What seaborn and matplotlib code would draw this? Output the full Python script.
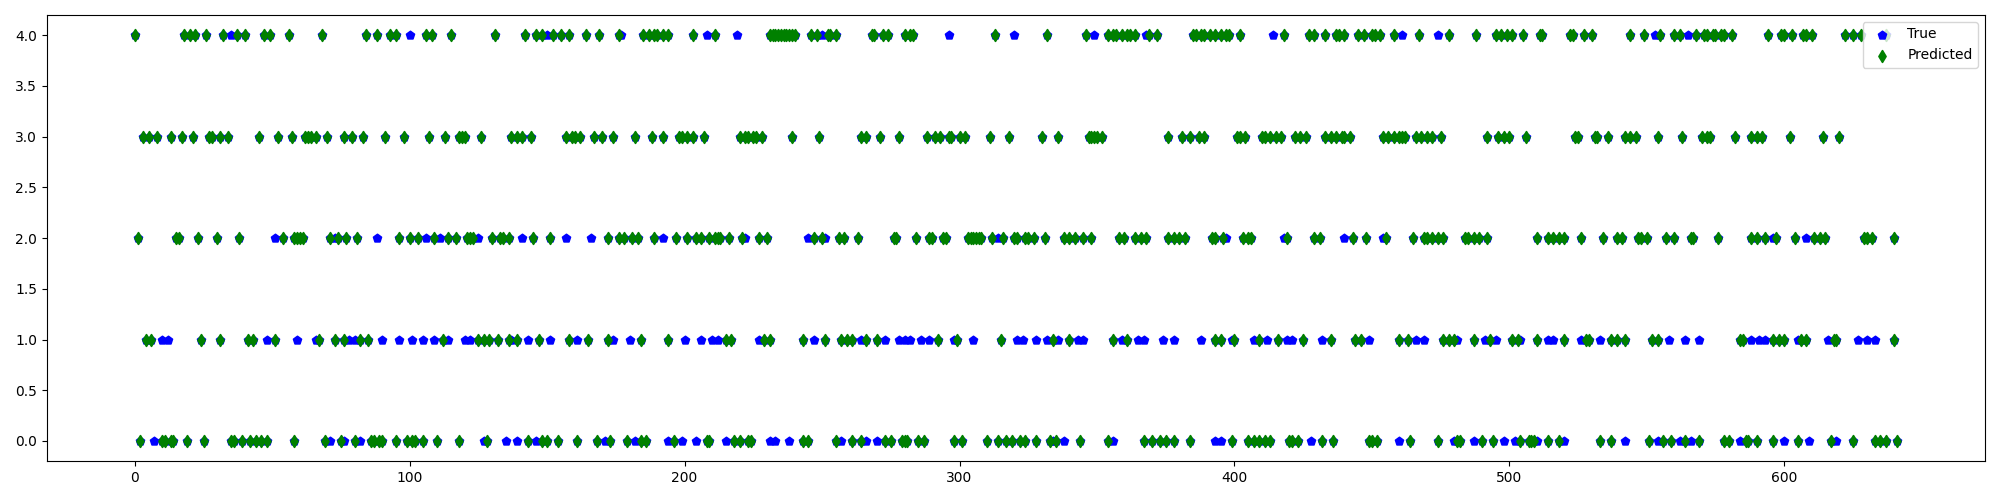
import matplotlib
matplotlib.use("Agg")
import matplotlib.pyplot as plt
import numpy as np
import pandas as pd
import seaborn as sns

# sample index of every predicted label, grouped by predicted class
pred_class0 = [2, 10, 11, 13, 14, 19, 25, 35, 36, 39, 42, 44, 46, 48,
               58, 69, 75, 80, 86, 87, 89, 90, 95, 99, 101, 102, 105,
               110, 118, 128, 143, 148, 150, 154, 161,
               168, 173, 179, 184, 186, 196, 208, 209, 218, 220, 223,
               224, 243, 245, 255, 261, 264, 273, 275, 279,
               280, 281, 285, 287, 298, 301, 310, 314, 317, 319, 322, 324, 328, 333, 335,
               344, 354, 367, 370, 373, 375, 378, 384,
               399, 405, 407, 409, 411, 413, 420, 421, 423, 432, 436, 449,
               450, 452, 464, 474, 481, 482, 490, 494, 504, 507,
               508, 509, 514, 518, 533, 537, 551, 556, 559, 564,
               569, 578, 580, 586, 587, 590, 596, 605, 617,
               625, 633, 635, 637, 641]
pred_class1 = [4, 6, 24, 31, 41, 43, 51,
               67, 73, 76, 82, 85,
               112, 125, 127, 129, 132, 136, 139, 147, 158, 165,
               172, 184, 194, 215, 217,
               229, 231, 243, 251, 257, 259, 261, 266, 270,
               292, 299, 315, 334,
               340, 356, 361, 393,
               395, 400, 409, 416, 425, 435, 444, 446,
               460, 463, 476, 478, 480, 487, 493, 501, 503,
               510, 520, 528, 529, 537, 539, 542, 552, 554,
               584, 585, 596, 598, 600, 606, 608, 618, 619,
               640]
pred_class2 = [1, 15, 16, 23, 30, 38,
               54, 58, 59, 60, 61, 71, 74, 77, 81, 96, 100, 103, 109,
               114, 117, 121, 122, 123, 130, 133, 134, 136, 145, 151,
               172, 176, 178, 181, 183, 189, 197, 201, 204, 206, 209, 211, 212, 213, 216, 221,
               227, 230, 247, 250, 256, 258, 263, 276, 277,
               284, 289, 290, 294, 295, 303, 304, 305, 306, 307, 308, 312, 316, 320, 321,
               324, 325, 327, 331,
               338, 340, 342, 345, 348, 358, 360, 364, 366, 368, 376, 378, 380, 382, 392,
               393, 396, 403, 405, 406, 419, 429, 431, 443, 448,
               455, 465, 469, 470, 472, 474, 476, 484, 485, 487, 489, 492,
               510, 514, 516, 518, 520, 526, 534, 539, 541, 547, 548, 550, 557, 560,
               566, 567, 576, 588, 590, 593, 597, 604, 611, 613, 615,
               629, 630, 632, 640]
pred_class3 = [3, 5, 8, 13, 17, 21, 27, 28, 31, 34, 45,
               52, 57, 62, 63, 64, 66, 70, 76, 79, 83, 91, 98, 107,
               113, 118, 119, 120, 126, 137, 139, 141, 144, 157, 159, 160, 162,
               167, 170, 174, 182, 188, 192, 198, 199, 201, 203, 207, 220,
               222, 223, 225, 226, 228, 239, 249, 264, 266, 271, 278,
               288, 291, 293, 296, 297, 300, 302, 311, 318, 330, 336,
               347, 348, 349, 350, 352, 376, 381, 384, 387, 389,
               401, 402, 404, 410, 411, 413, 415, 417, 422, 424, 426, 433, 435, 437, 439, 440, 442,
               454, 456, 458, 460, 461, 462, 466, 468, 470, 472, 475, 492, 496, 498, 500, 506,
               524, 525, 531, 532, 536, 542, 544, 546, 554, 563,
               570, 572, 573, 582, 588, 590, 592, 602, 614, 620]
pred_class4 = [0, 18, 20, 22, 26, 32, 37, 40, 47, 49,
               56, 68, 84, 88, 93, 95, 106, 108,
               115, 131, 142, 146, 148, 152, 155, 158, 164,
               169, 176, 185, 187, 189, 190, 192, 194, 203, 211,
               231, 232, 233, 234, 235, 236, 237, 238, 239, 240, 246, 248, 252, 253, 255,
               268, 269, 272, 274,
               280, 282, 283, 313, 332,
               346, 354, 356, 357, 359, 361, 362, 364, 369, 372, 385, 386, 388, 389, 391,
               393, 395, 397, 398, 402, 418, 427, 429, 433, 437, 438, 440, 445, 447,
               450, 451, 453, 458, 467, 478, 488, 495, 497, 499, 501, 505,
               511, 512, 522, 523, 527, 530, 544, 549, 555, 560, 562,
               568, 571, 572, 574, 575, 577, 578, 581, 594, 599, 600, 603, 607, 608, 610,
               622, 625, 628, 637]

# samples where the true label differs from the prediction, grouped by true class
miss_class0 = [7, 71, 76, 82, 127, 135, 139, 146, 171, 182, 194, 199, 204, 215,
               231, 233, 238, 257, 266, 270, 334, 338, 356, 393, 395, 428, 460,
               480, 487, 498, 502, 510, 520, 542, 554, 562, 566, 584, 600, 609, 619]
miss_class1 = [10, 12, 48, 59, 66, 78, 80, 90, 96, 101, 105, 109, 114, 120, 122,
               137, 143, 151, 161, 174, 180, 200, 206, 210, 212, 227, 247, 264,
               273, 278, 280, 282, 286, 289, 298, 305, 321, 323, 328, 332, 336,
               343, 345, 359, 365, 367, 374, 378, 388, 399, 407, 412, 419, 421,
               432, 449, 466, 469, 481, 491, 495, 504, 514, 516, 526, 533, 558,
               564, 569, 588, 591, 593, 605, 616, 627, 630, 633]
miss_class2 = [51, 73, 88, 106, 111, 125, 141, 157, 166, 192, 222, 245, 251,
               314, 397, 418, 440, 454, 596, 608]
miss_class3 = []
miss_class4 = [35, 100, 150, 177, 208, 219, 250, 296, 320, 349, 368, 414, 461,
               474, 553, 565]

pred_lists = [pred_class0, pred_class1, pred_class2, pred_class3, pred_class4]
miss_lists = [miss_class0, miss_class1, miss_class2, miss_class3, miss_class4]

pred_df = pd.DataFrame([(i, c) for c, xs in enumerate(pred_lists) for i in xs],
                       columns=["sample", "label"])
miss_df = pd.DataFrame([(i, c) for c, xs in enumerate(miss_lists) for i in xs],
                       columns=["sample", "label"])
true_df = pd.concat([pred_df, miss_df]).sort_values("sample")

fig, ax = plt.subplots(figsize=(20, 5), dpi=100)
sns.scatterplot(data=true_df, x="sample", y="label", color="blue", marker="p",
                s=36, edgecolor="face", linewidth=1.2, label="True", ax=ax)
sns.scatterplot(data=pred_df, x="sample", y="label", color="green", marker="d",
                s=36, edgecolor="face", linewidth=1.2, label="Predicted", ax=ax)
ax.set_xlabel("")
ax.set_ylabel("")
ax.legend(loc="upper right")
plt.tight_layout()
plt.savefig("out.png")
